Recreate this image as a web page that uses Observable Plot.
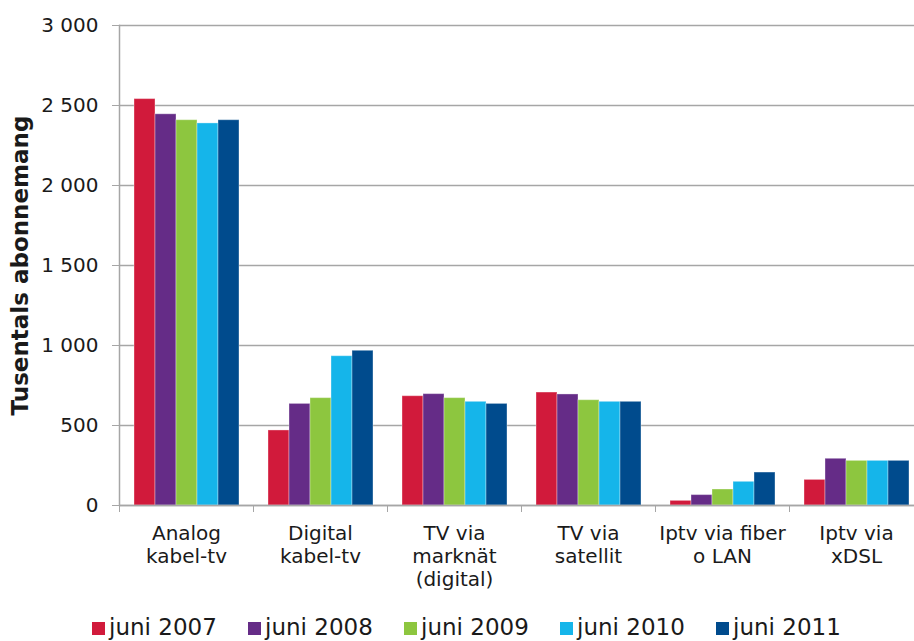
<!DOCTYPE html>
<html><head><meta charset="utf-8">
<script src="https://cdn.jsdelivr.net/npm/d3@7"></script>
<script src="https://cdn.jsdelivr.net/npm/@observablehq/plot@0.6"></script>
<style>
html,body{margin:0;padding:0;background:#fff;overflow:hidden;}
#wrap{width:914px;height:641px;overflow:hidden;position:relative;font-family:"DejaVu Sans",Verdana,sans-serif;background:#fff;}
#chart svg{max-width:none !important;}
g[aria-label="y-axis label"] text{font-weight:bold;font-size:23px;}
#legend{position:absolute;left:92px;top:614px;display:flex;font-size:23px;line-height:26px;color:#1a1a1a;white-space:nowrap;}
#legend .item{display:flex;align-items:center;width:156px;}
#legend .sw{width:13px;height:13px;margin-right:4px;margin-top:3px;}
</style></head><body>
<div id="wrap"><div id="chart"></div><div id="legend"></div></div>
<script>
const categories = ["Analog\nkabel-tv", "Digital\nkabel-tv", "TV via\nmarknät\n(digital)", "TV via\nsatellit", "Iptv via fiber\no LAN", "Iptv via\nxDSL"];
const years = ["juni 2007", "juni 2008", "juni 2009", "juni 2010", "juni 2011"];
const v2007 = [2540, 469, 683, 706, 29, 160];
const v2008 = [2445, 635, 696, 694, 65, 292];
const v2009 = [2408, 671, 671, 658, 100, 279];
const v2010 = [2388, 933, 648, 648, 148, 279];
const v2011 = [2408, 967, 635, 648, 206, 279];
const yTicks = [0, 500, 1000, 1500, 2000, 2500, 3000];
const yLabel = "Tusentals abonnemang";

const series = [v2007, v2008, v2009, v2010, v2011];
const colors = ["#d11a3b", "#652c87", "#8dc63f", "#15b5ea", "#004b8d"];
const data = categories.flatMap((c, i) => years.map((y, j) => ({category: c, year: y, value: series[j][i]})));

const W = 930, mL = 119, mR = 7;
const step = (W - mL - mR) / categories.length;
const grid = "#a6a6a6";
const fmt = d => d3.format(",")(d).replace(/,/g, "\u00a0");

const chart = Plot.plot({
  width: W, height: 600,
  marginLeft: mL, marginRight: mR, marginTop: 25, marginBottom: 95,
  style: {fontFamily: "DejaVu Sans, Verdana, sans-serif", fontSize: "20px", color: "#1a1a1a", background: "white", maxWidth: "none"},
  fx: {domain: categories, padding: 0, axis: null},
  x: {domain: years, paddingInner: 0, paddingOuter: 0.69, axis: null},
  y: {domain: [0, 3000], axis: null},
  color: {domain: years, range: colors},
  marks: [
    Plot.gridY(yTicks, {stroke: grid, strokeOpacity: 1, strokeWidth: 1.5}),
    Plot.barY(data, {fx: "category", x: "year", y: "value", fill: "year", stroke: "white", strokeOpacity: 0.35, strokeWidth: 1}),
    Plot.ruleY([0], {stroke: grid, strokeWidth: 1.5}),
    Plot.frame({anchor: "left", facet: "super", stroke: grid, strokeWidth: 1.5}),
    Plot.axisY(yTicks, {tickSize: 7, tickPadding: 14, stroke: grid, tickFormat: fmt, label: yLabel, labelAnchor: "center", labelArrow: "none", labelOffset: 108}),
    Plot.axisFx({anchor: "bottom", tickSize: 0, tickPadding: 18, lineHeight: 1.15, label: null}),
    Plot.axisFx({anchor: "bottom", tickSize: 7, dx: -step / 2, tickFormat: () => "", stroke: grid, label: null})
  ]
});
chart.style.maxWidth = "none";
document.getElementById("chart").appendChild(chart);

const legend = d3.select("#legend");
years.forEach((y, j) => {
  const it = legend.append("div").attr("class", "item");
  it.append("div").attr("class", "sw").style("background", colors[j]);
  it.append("span").text(y);
});
</script>
</body></html>
